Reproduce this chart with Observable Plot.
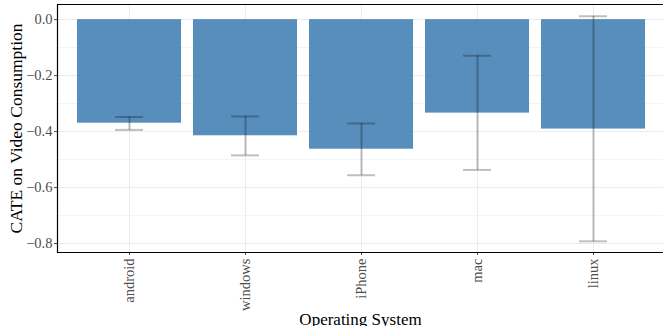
<!DOCTYPE html>
<html>
<head>
<meta charset="utf-8">
<script src="https://cdn.jsdelivr.net/npm/d3@7"></script>
<script src="https://cdn.jsdelivr.net/npm/@observablehq/plot@0.6"></script>
<style>
  body { margin: 0; background: #fff; }
  svg { display: block; }
</style>
</head>
<body>
<div id="chart"></div>
<script>
// Conditional average treatment effect on video consumption, by operating system
const os = ["android", "windows", "iPhone", "mac", "linux"];
const cate = [-0.370, -0.415, -0.463, -0.334, -0.391];
const lower = [-0.394, -0.485, -0.556, -0.537, -0.792];
const upper = [-0.348, -0.346, -0.371, -0.129, 0.012];

const majorY = [0, -0.2, -0.4, -0.6, -0.8];
const minorY = [-0.1, -0.3, -0.5, -0.7];
const yDomain = [-0.832, 0.054];

const rows = os.map((name, i) => ({os: name, cate: cate[i], lower: lower[i], upper: upper[i]}));

const grid = "#ebebeb";
const errStyle = {stroke: "#000", strokeOpacity: 0.25, strokeWidth: 2};

const chart = Plot.plot({
  width: 663,
  height: 326,
  marginTop: 4,
  marginBottom: 74,
  marginLeft: 57,
  marginRight: 0,
  style: {fontFamily: "'Liberation Serif', 'DejaVu Serif', serif", background: "white"},
  x: {domain: os, range: [57, 665], paddingInner: 0.1, paddingOuter: 0.15, axis: null},
  y: {domain: yDomain, axis: null},
  marks: [
    // panel grid
    Plot.ruleY(minorY, {stroke: grid, strokeWidth: 0.6}),
    Plot.ruleY(majorY, {stroke: grid, strokeWidth: 1}),
    Plot.ruleX(os, {x: d => d, stroke: grid, strokeWidth: 1}),
    // bars
    Plot.barY(rows, {x: "os", y: "cate", fill: "#4682b4", fillOpacity: 0.9, inset: 0}),
    // error bars
    Plot.ruleX(rows, {x: "os", y1: "lower", y2: "upper", ...errStyle}),
    Plot.tickY(rows, {x: "os", y: "lower", ...errStyle, insetLeft: 38, insetRight: 38}),
    Plot.tickY(rows, {x: "os", y: "upper", ...errStyle, insetLeft: 38, insetRight: 38}),
    // axes
    Plot.axisY(majorY, {tickSize: 3, tickPadding: 2, tickFormat: d3.format(".1f"), fontSize: 14.5, color: "#4d4d4d", label: null}),
    Plot.axisX({tickSize: 3, tickPadding: 3, tickRotate: -90, fontSize: 14.5, color: "#4d4d4d", label: null}),
    // panel border lines (top, bottom, left)
    Plot.ruleY([yDomain[1]], {stroke: "#000", strokeWidth: 1.2}),
    Plot.ruleY([yDomain[0]], {stroke: "#000", strokeWidth: 1.2}),
    Plot.frame({anchor: "left", stroke: "#000", strokeWidth: 1.2}),
    // axis titles
    Plot.text(["Operating System"], {frameAnchor: "bottom", textAnchor: "middle", lineAnchor: "top", dy: 60, fontSize: 17, fill: "#000"}),
    Plot.text(["CATE on Video Consumption"], {frameAnchor: "left", textAnchor: "middle", rotate: -90, dx: -41, fontSize: 17.5, fill: "#000"})
  ]
});

document.getElementById("chart").appendChild(chart);
</script>
</body>
</html>
